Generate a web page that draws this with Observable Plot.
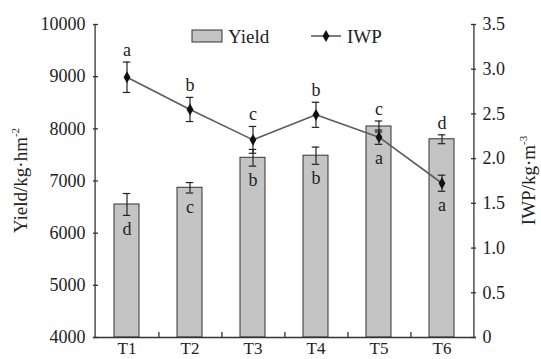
<!DOCTYPE html>
<html><head><meta charset="utf-8">
<script src="https://cdn.jsdelivr.net/npm/d3@7"></script>
<script src="https://cdn.jsdelivr.net/npm/@observablehq/plot@0.6"></script>
<style>body{margin:0;background:#fff}</style>
</head><body><div id="chart"></div>
<script>
const treatments = ["T1", "T2", "T3", "T4", "T5", "T6"];
const yieldMean = [6550, 6870, 7445, 7485, 8045, 7800];
const yieldErr = [210, 100, 160, 165, 105, 85];
const iwpMean = [2.91, 2.55, 2.21, 2.49, 2.24, 1.725];
const iwpErr = [0.17, 0.135, 0.15, 0.14, 0.08, 0.09];
const iwpLetters = ["a", "b", "c", "b", "c", "d"];
const yieldLetters = ["d", "c", "b", "b", "a", "a"];
const yieldTicks = [4000, 5000, 6000, 7000, 8000, 9000, 10000];
const iwpTicks = [0, 0.5, 1.0, 1.5, 2.0, 2.5, 3.0, 3.5];
const iwpTickLabels = ["0", "0.5", "1.0", "1.5", "2.0", "2.5", "3.0", "3.5"];

const W = 541, H = 359;
const mL = 93, mR = 65, mT = 24, mB = 22;
const frameW = W - mL - mR, frameH = H - mT - mB;
const step = frameW / treatments.length;
const yDom = [4000, 10000], iDom = [0, 3.5];
const toY = v => yDom[0] + (v - iDom[0]) * (yDom[1] - yDom[0]) / (iDom[1] - iDom[0]);
const iwpTickPos = iwpTicks.map(toY);
const iwpLabelMap = new Map(iwpTickPos.map((p, i) => [p, iwpTickLabels[i]]));

const rows = treatments.map((t, i) => {
  const yU = yieldMean[i] + yieldErr[i], yD = yieldMean[i] - yieldErr[i];
  const iU = toY(iwpMean[i] + iwpErr[i]), iD = toY(iwpMean[i] - iwpErr[i]);
  return {t, y: yieldMean[i], yU, yD, i: toY(iwpMean[i]), iU, iD,
    top: Math.max(yU, iU), bot: Math.min(yD, iD), topL: iwpLetters[i], botL: yieldLetters[i]};
});

const ink = "#222";
const font = "Liberation Serif, Times New Roman, serif";
const capInset = (step * 0.4 - 8) / 2;
const plot = Plot.plot({
  width: W, height: H,
  marginLeft: mL, marginRight: mR, marginTop: mT, marginBottom: mB,
  style: {fontFamily: font, fontSize: "18px", color: ink, background: "#fff"},
  x: {type: "band", domain: treatments, paddingInner: 0.6, paddingOuter: 0.3, label: null},
  y: {domain: yDom, label: null},
  marks: [
    Plot.barY(rows, {x: "t", y1: yDom[0], y2: "y", fill: "#c4c4c4", stroke: "#333", strokeWidth: 1}),
    Plot.ruleX(rows, {x: "t", y1: "yD", y2: "yU", stroke: ink, strokeWidth: 1.2}),
    Plot.tickY(rows, {x: "t", y: "yU", stroke: ink, strokeWidth: 1.2, insetLeft: capInset, insetRight: capInset}),
    Plot.tickY(rows, {x: "t", y: "yD", stroke: ink, strokeWidth: 1.2, insetLeft: capInset, insetRight: capInset}),
    Plot.line(rows, {x: "t", y: "i", stroke: "#5c5c5c", strokeWidth: 1.6}),
    Plot.ruleX(rows, {x: "t", y1: "iD", y2: "iU", stroke: ink, strokeWidth: 1.2}),
    Plot.tickY(rows, {x: "t", y: "iU", stroke: ink, strokeWidth: 1.2, insetLeft: capInset, insetRight: capInset}),
    Plot.tickY(rows, {x: "t", y: "iD", stroke: ink, strokeWidth: 1.2, insetLeft: capInset, insetRight: capInset}),
    Plot.dot(rows, {x: "t", y: "i", symbol: "diamond", r: 3.6, fill: "#111", stroke: "none"}),
    Plot.text(rows, {x: "t", y: "top", text: "topL", dy: -12, fill: ink, fontSize: 18}),
    Plot.text(rows, {x: "t", y: "bot", text: "botL", dy: 14, fill: ink, fontSize: 18}),
    // axis lines
    Plot.ruleY([yDom[0]], {stroke: "#333", strokeWidth: 1.3}),
    Plot.ruleX([treatments[0]], {dx: -step / 2, stroke: "#333", strokeWidth: 1.3}),
    Plot.ruleX([treatments[treatments.length - 1]], {dx: step / 2, stroke: "#333", strokeWidth: 1.3}),
    // inward ticks
    Plot.tickY(yieldTicks, {y: d => d, insetRight: frameW - 5, stroke: "#333", strokeWidth: 1.3}),
    Plot.tickY(iwpTickPos, {y: d => d, insetLeft: frameW - 5, stroke: "#333", strokeWidth: 1.3}),
    Plot.tickX(treatments.slice(0, -1), {x: d => d, dx: step / 2, insetTop: frameH - 5, stroke: "#333", strokeWidth: 1.3}),
    Plot.axisY(yieldTicks, {anchor: "left", tickSize: 0, tickPadding: 8, label: null, tickFormat: d => String(d), fill: ink, fontSize: 18}),
    Plot.axisY(iwpTickPos, {anchor: "right", tickSize: 0, tickPadding: 6, label: null, tickFormat: d => iwpLabelMap.get(d), fill: ink, fontSize: 18}),
    Plot.axisX({tickSize: 0, tickPadding: 4, label: null, fill: ink, fontSize: 17})
  ]
});
document.getElementById("chart").append(plot);

const svg = d3.select(plot);
// legend
const lg = svg.append("g").attr("font-family", font).attr("font-size", 19).attr("fill", ink)
  .attr("text-anchor", "start");
lg.append("rect").attr("x", 192).attr("y", 30).attr("width", 30).attr("height", 12)
  .attr("fill", "#c4c4c4").attr("stroke", "#333").attr("stroke-width", 1);
lg.append("text").attr("x", 228).attr("y", 36).attr("dy", "0.35em").attr("text-anchor", "start").text("Yield");
lg.append("line").attr("x1", 311).attr("x2", 341).attr("y1", 36).attr("y2", 36)
  .attr("stroke", "#5c5c5c").attr("stroke-width", 1.6);
lg.append("path").attr("transform", "translate(326,36)")
  .attr("d", d3.symbol(d3.symbolDiamond, Math.PI * 3.6 * 3.6)()).attr("fill", "#111");
lg.append("text").attr("x", 347).attr("y", 36).attr("dy", "0.35em").attr("text-anchor", "start").text("IWP");

// axis titles
function title(x, main, unit, sup) {
  const t = svg.append("text").attr("transform", `translate(${x},${mT + frameH / 2}) rotate(-90)`)
    .attr("text-anchor", "middle").attr("font-family", font).attr("font-size", 19).attr("fill", ink)
    .attr("dy", "0.35em");
  t.append("tspan").text(main + unit);
  t.append("tspan").attr("font-size", 11).attr("dy", -8).text(sup);
}
title(20, "Yield/", "kg·hm", "-2");
title(528, "IWP/", "kg·m", "-3");
</script>
</body></html>
